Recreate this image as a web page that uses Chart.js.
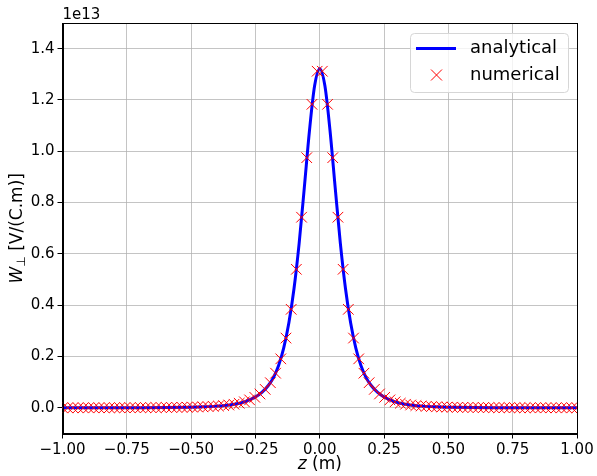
<!DOCTYPE html>
<html>
<head>
<meta charset="utf-8">
<script src="https://cdn.jsdelivr.net/npm/chart.js@4.4.0/dist/chart.umd.min.js"></script>
<style>
  body { margin: 0; background: #fff; }
  #wrap { width: 597px; height: 476px; }
</style>
</head>
<body>
<div id="wrap"><canvas id="wake" width="597" height="476"></canvas></div>
<script>
// Transverse wake, analytical vs numerical (values in units of 1e13 V/(C.m))
const analyticalZ = [
  -1, -0.9, -0.8, -0.7, -0.6, -0.5, -0.45, -0.4, -0.35, -0.3, -0.275, -0.25,
  -0.225, -0.2, -0.18, -0.16, -0.14, -0.12, -0.1, -0.08, -0.06, -0.04, -0.02,
  0,
  0.02, 0.04, 0.06, 0.08, 0.1, 0.12, 0.14, 0.16, 0.18, 0.2, 0.225,
  0.25, 0.275, 0.3, 0.35, 0.4, 0.45, 0.5, 0.6, 0.7, 0.8, 0.9, 1
];
const analyticalW = [
  0.0001, 0.0002, 0.0004, 0.0007, 0.0013, 0.0027, 0.0041, 0.0067, 0.0115, 0.021, 0.030, 0.042,
  0.060, 0.087, 0.118, 0.165, 0.234, 0.332, 0.465, 0.642, 0.858, 1.080, 1.255,
  1.322,
  1.255, 1.080, 0.858, 0.642, 0.465, 0.332, 0.234, 0.165, 0.118, 0.087, 0.060,
  0.042, 0.030, 0.021, 0.0115, 0.0067, 0.0041, 0.0027, 0.0013, 0.0007, 0.0004, 0.0002, 0.0001
];

const numericalZ = [
  -1.0000, -0.9798, -0.9596, -0.9394, -0.9192, -0.8990, -0.8788, -0.8586, -0.8384, -0.8182,
  -0.7980, -0.7778, -0.7576, -0.7374, -0.7172, -0.6970, -0.6768, -0.6566, -0.6364, -0.6162,
  -0.5960, -0.5758, -0.5556, -0.5354, -0.5152, -0.4949, -0.4747, -0.4545, -0.4343, -0.4141,
  -0.3939, -0.3737, -0.3535, -0.3333, -0.3131, -0.2929, -0.2727, -0.2525, -0.2323, -0.2121,
  -0.1919, -0.1717, -0.1515, -0.1313, -0.1111, -0.0909, -0.0707, -0.0505, -0.0303, -0.0101,
  0.0101, 0.0303, 0.0505, 0.0707, 0.0909, 0.1111, 0.1313, 0.1515, 0.1717, 0.1919,
  0.2121, 0.2323, 0.2525, 0.2727, 0.2929, 0.3131, 0.3333, 0.3535, 0.3737, 0.3939,
  0.4141, 0.4343, 0.4545, 0.4747, 0.4949, 0.5152, 0.5354, 0.5556, 0.5758, 0.5960,
  0.6162, 0.6364, 0.6566, 0.6768, 0.6970, 0.7172, 0.7374, 0.7576, 0.7778, 0.7980,
  0.8182, 0.8384, 0.8586, 0.8788, 0.8990, 0.9192, 0.9394, 0.9596, 0.9798, 1.0000
];
const numericalW = [
  0.0001, 0.0001, 0.0002, 0.0002, 0.0002, 0.0002, 0.0002, 0.0003, 0.0003, 0.0003,
  0.0004, 0.0004, 0.0005, 0.0005, 0.0006, 0.0007, 0.0008, 0.0009, 0.0010, 0.0011,
  0.0013, 0.0015, 0.0017, 0.0020, 0.0024, 0.0028, 0.0033, 0.0040, 0.0048, 0.0058,
  0.0071, 0.0088, 0.0110, 0.0140, 0.0180, 0.0235, 0.0310, 0.0410, 0.0540, 0.0720,
  0.0980, 0.1350, 0.1910, 0.2720, 0.3840, 0.5400, 0.7430, 0.9750, 1.1830, 1.3120,
  1.3120, 1.1830, 0.9750, 0.7430, 0.5400, 0.3840, 0.2720, 0.1910, 0.1350, 0.0980,
  0.0720, 0.0540, 0.0410, 0.0310, 0.0235, 0.0180, 0.0140, 0.0110, 0.0088, 0.0071,
  0.0058, 0.0048, 0.0040, 0.0033, 0.0028, 0.0024, 0.0020, 0.0017, 0.0015, 0.0013,
  0.0011, 0.0010, 0.0009, 0.0008, 0.0007, 0.0006, 0.0005, 0.0005, 0.0004, 0.0004,
  0.0003, 0.0003, 0.0003, 0.0002, 0.0002, 0.0002, 0.0002, 0.0002, 0.0001, 0.0001
];

const xTicks = [-1, -0.75, -0.5, -0.25, 0, 0.25, 0.5, 0.75, 1];
const yTicks = [0, 0.2, 0.4, 0.6, 0.8, 1.0, 1.2, 1.4];
const seriesNames = ['analytical', 'numerical'];
const yOffsetLabel = '1e13';

const FONT = "'DejaVu Sans', sans-serif";

function fmtMinus(s) {
  return s.replace('-', '\u2212');
}

// frame, axis titles, offset text and legend, drawn like matplotlib does
const decorPlugin = {
  id: 'decor',
  afterDraw(chart) {
    const ctx = chart.ctx;
    const a = chart.chartArea;
    ctx.save();

    // full box around the axes
    ctx.strokeStyle = '#000';
    ctx.lineWidth = 1;
    ctx.strokeRect(Math.round(a.left) + 0.5, Math.round(a.top) + 0.5,
                   Math.round(a.right - a.left) - 1, Math.round(a.bottom - a.top));

    ctx.fillStyle = '#000';

    // offset text
    ctx.font = '15px ' + FONT;
    ctx.textAlign = 'left';
    ctx.textBaseline = 'alphabetic';
    ctx.fillText(yOffsetLabel, a.left, a.top - 4);

    // x title: italic z + " (m)"
    ctx.textBaseline = 'middle';
    const xt1 = 'z', xt2 = ' (m)';
    ctx.font = 'italic 17px ' + FONT;
    const w1 = ctx.measureText(xt1).width;
    ctx.font = '17px ' + FONT;
    const w2 = ctx.measureText(xt2).width;
    let xs = (a.left + a.right) / 2 - (w1 + w2) / 2;
    const xy = 465;
    ctx.font = 'italic 17px ' + FONT;
    ctx.fillText(xt1, xs, xy);
    ctx.font = '17px ' + FONT;
    ctx.fillText(xt2, xs + w1, xy);

    // y title: W_perp [V/(C.m)] rotated
    ctx.save();
    ctx.translate(18, (a.top + a.bottom) / 2);
    ctx.rotate(-Math.PI / 2);
    const p1 = 'W', p2 = '\u22A5', p3 = ' [V/(C.m)]';
    ctx.font = 'italic 17px ' + FONT;
    const q1 = ctx.measureText(p1).width;
    ctx.font = '12px ' + FONT;
    const q2 = ctx.measureText(p2).width;
    ctx.font = '17px ' + FONT;
    const q3 = ctx.measureText(p3).width;
    let px = -(q1 + q2 + q3) / 2;
    ctx.font = 'italic 17px ' + FONT;
    ctx.fillText(p1, px, 0);
    ctx.font = '12px ' + FONT;
    ctx.fillText(p2, px + q1, 4);
    ctx.font = '17px ' + FONT;
    ctx.fillText(p3, px + q1 + q2, 0);
    ctx.restore();

    // legend box
    const bx = 410.5, by = 33.5, bw = 158, bh = 59;
    ctx.beginPath();
    ctx.roundRect(bx, by, bw, bh, 4);
    ctx.fillStyle = 'rgba(255,255,255,0.8)';
    ctx.fill();
    ctx.strokeStyle = '#d6d6d6';
    ctx.lineWidth = 1;
    ctx.stroke();

    ctx.strokeStyle = '#0000ff';
    ctx.lineWidth = 3;
    ctx.beginPath();
    ctx.moveTo(416, 48.5);
    ctx.lineTo(456, 48.5);
    ctx.stroke();

    ctx.strokeStyle = '#ff0000';
    ctx.lineWidth = 1;
    const mx = 436.5, my = 75, r = 5.5;
    ctx.beginPath();
    ctx.moveTo(mx - r, my - r); ctx.lineTo(mx + r, my + r);
    ctx.moveTo(mx - r, my + r); ctx.lineTo(mx + r, my - r);
    ctx.stroke();

    ctx.fillStyle = '#000';
    ctx.font = '18px ' + FONT;
    ctx.textAlign = 'left';
    ctx.textBaseline = 'middle';
    ctx.fillText(seriesNames[0], 470, 48);
    ctx.fillText(seriesNames[1], 470, 75);

    ctx.restore();
  }
};

const gridColor = 'rgba(176,176,176,0.75)';

new Chart(document.getElementById('wake'), {
  type: 'scatter',
  data: {
    datasets: [
      {
        label: seriesNames[0],
        type: 'line',
        data: analyticalZ.map((z, i) => ({ x: z, y: analyticalW[i] })),
        borderColor: '#0000ff',
        borderWidth: 3,
        pointRadius: 0,
        fill: false,
        cubicInterpolationMode: 'monotone',
        order: 2
      },
      {
        label: seriesNames[1],
        data: numericalZ.map((z, i) => ({ x: z, y: numericalW[i] })),
        pointStyle: 'crossRot',
        pointRadius: 7.5,
        borderColor: '#ff0000',
        backgroundColor: '#ff0000',
        pointBorderWidth: 1,
        order: 1
      }
    ]
  },
  options: {
    responsive: false,
    animation: false,
    layout: { padding: { top: 23, right: 20, left: 0, bottom: 0 } },
    plugins: {
      legend: { display: false },
      tooltip: { enabled: false }
    },
    scales: {
      x: {
        type: 'linear',
        min: -1,
        max: 1,
        afterBuildTicks: (s) => { s.ticks = xTicks.map(v => ({ value: v })); },
        afterFit: (s) => { s.height = 42.5; },
        grid: { color: gridColor, lineWidth: 1, tickColor: '#000', tickLength: 5 },
        border: { color: '#000', width: 1 },
        ticks: {
          color: '#000',
          font: { family: FONT, size: 15 },
          padding: 3,
          maxRotation: 0,
          callback: (v) => fmtMinus(Number(v).toFixed(2))
        }
      },
      y: {
        type: 'linear',
        min: -0.1,
        max: 1.5,
        afterBuildTicks: (s) => { s.ticks = yTicks.map(v => ({ value: v })); },
        afterFit: (s) => { s.width = 62.5; },
        grid: { color: gridColor, lineWidth: 1, tickColor: '#000', tickLength: 5 },
        border: { color: '#000', width: 1 },
        ticks: {
          color: '#000',
          font: { family: FONT, size: 15 },
          padding: 3,
          callback: (v) => fmtMinus(Number(v).toFixed(1))
        }
      }
    }
  },
  plugins: [decorPlugin]
});
</script>
</body>
</html>
